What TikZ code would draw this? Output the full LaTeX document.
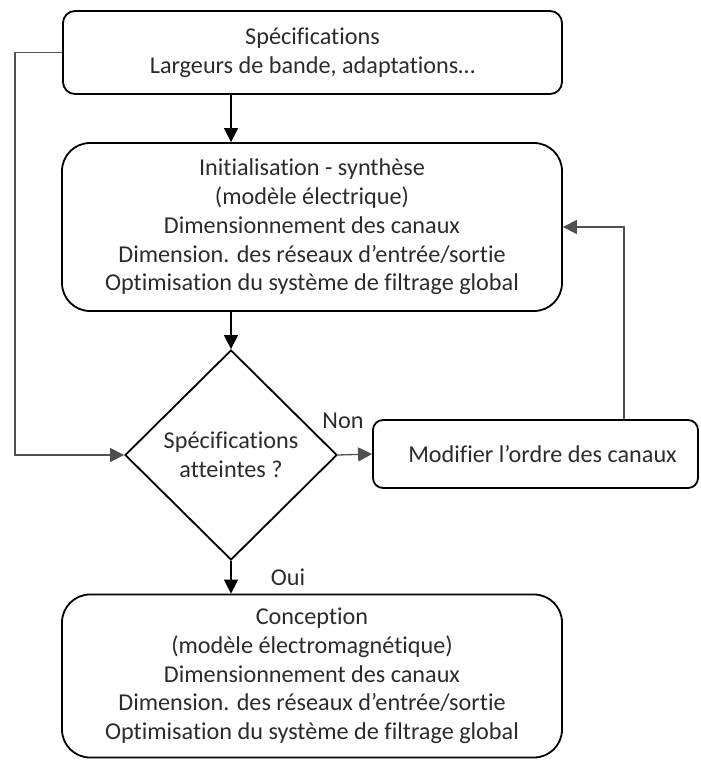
\documentclass[tikz,border=0pt]{standalone}
\usepackage{fontspec}
\setmainfont{Carlito}[Ligatures=NoCommon]
\usetikzlibrary{shapes.geometric,arrows.meta}
\definecolor{txt}{HTML}{2B2B2B}
\definecolor{lin}{HTML}{505050}
\tikzset{
  box/.style={draw=black, line width=1.8pt, rectangle, align=center, inner sep=0pt, text=txt,
    font=\fontsize{24.2}{28.7}\selectfont},
  dec/.style={draw=black, line width=1.8pt, diamond, align=center, inner sep=0pt, text=txt,
    font=\fontsize{24.2}{28.7}\selectfont, minimum width=212pt, minimum height=210pt},
  arr/.style={line width=1.3pt, -{Triangle[length=14pt,width=14pt]}},
  lbl/.style={text=txt, font=\fontsize{24.2}{28.7}\selectfont, inner sep=0pt}
}
\begin{document}
\begin{tikzpicture}[x=1pt,y=-1pt]
\useasboundingbox (0,0) rectangle (701,760);
\node[box, rounded corners=12pt, minimum width=499pt, minimum height=83pt] (spec) at (312.5,52.5)
  {Spécifications\\Largeurs de bande, adaptations…};
\node[box, rounded corners=28pt, minimum width=500pt, minimum height=168pt] (init) at (312,227)
  {Initialisation - synthèse\\(modèle électrique)\\Dimensionnement des canaux\\Dimension. des réseaux d’entrée/sortie\\Optimisation du système de filtrage global};
\node[dec] (dia) at (231,455) {Spécifications\\atteintes ?};
\node[box, rounded corners=10pt, minimum width=325pt, minimum height=68pt] (modif) at (535.5,454)
  {\hspace*{14pt}Modifier l’ordre des canaux};
\node[box, rounded corners=28pt, minimum width=500pt, minimum height=163pt] (conc) at (312,676)
  {Conception\\(modèle électromagnétique)\\Dimensionnement des canaux\\Dimension. des réseaux d’entrée/sortie\\Optimisation du système de filtrage global};
\coordinate (lft) at (15,52.5);
\coordinate (fb) at (624,227);
\draw[arr] (spec.south -| dia.north) -- (init.north -| dia.north);
\draw[arr] (init.south -| dia.north) -- (dia.north);
\draw[arr, draw=lin] (spec.west) -- (lft) |- (dia.west);
\draw[arr, draw=lin] (dia.east) -- (modif.west);
\draw[arr, draw=lin] (modif.north -| fb) -- (fb) -- (init.east |- fb);
\draw[arr] (dia.south) -- (conc.north -| dia.south);
\node[lbl] (non) at (343,421) {Non};
\node[lbl] (oui) at (288,577) {Oui};
\end{tikzpicture}
\end{document}
